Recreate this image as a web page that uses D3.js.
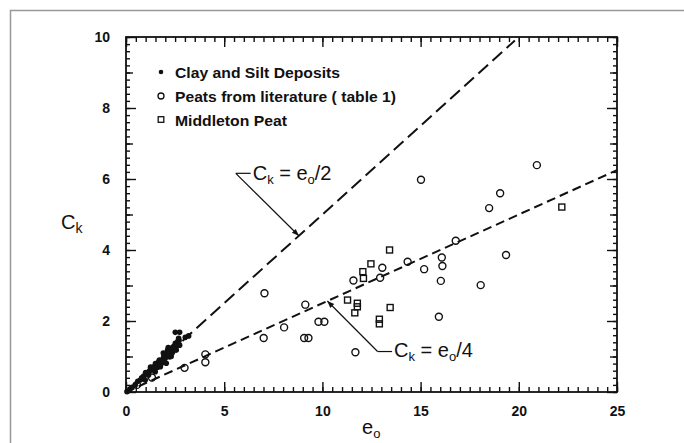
<!DOCTYPE html>
<html>
<head>
<meta charset="utf-8">
<script src="https://cdn.jsdelivr.net/npm/d3@7"></script>
<style>
  body { margin: 0; background: #fff; }
  svg text { font-family: "Liberation Sans", Arial, Helvetica, sans-serif; fill: #111; }
</style>
</head>
<body>
<div id="chart"></div>
<script>
// clay and silt deposits (filled dots)
var clayX = [0.05, 0.2, 0.3, 0.47, 0.6, 0.73, 0.8, 0.9, 0.98, 1.0, 1.1, 1.15, 1.2, 1.25, 1.32, 1.41, 1.4, 1.49,
  1.5, 1.58, 1.6, 1.66, 1.7, 1.75, 1.8, 1.83, 1.9, 1.92, 1.9, 2.0, 2.0, 2.05, 2.1, 2.12, 2.15, 2.22, 2.25,
  2.3, 2.34, 2.4, 2.42, 2.5, 2.51, 2.56, 2.6, 2.63, 2.68, 2.7, 2.73, 2.51, 2.73, 3.02, 3.19];
var clayY = [0.01, 0.08, 0.13, 0.2, 0.3, 0.34, 0.4, 0.45, 0.34, 0.55, 0.5, 0.48, 0.6, 0.7, 0.62, 0.71, 0.65, 0.57,
  0.8, 0.76, 0.7, 0.85, 0.9, 0.71, 0.8, 0.9, 0.85, 0.99, 1.1, 0.95, 1.09, 0.81, 1.05, 1.18, 1.25, 0.99, 1.23,
  1.0, 1.09, 1.15, 1.28, 1.25, 1.37, 1.18, 1.3, 1.42, 1.51, 1.45, 1.32, 1.68, 1.68, 1.54, 1.58];

// peats from literature (open circles)
var peatX = [20.92, 15.02, 19.05, 18.49, 16.79, 19.35, 14.34, 16.08, 16.11, 15.18, 16.03, 18.06, 15.93,
  13.05, 12.94, 11.58, 7.05, 9.13, 9.07, 9.29, 9.8, 10.1, 8.05, 7.01, 11.68, 4.04, 4.04, 2.98, 1.32, 0.56];
var peatY = [6.39, 5.98, 5.60, 5.18, 4.26, 3.86, 3.67, 3.79, 3.55, 3.46, 3.13, 3.01, 2.12,
  3.50, 3.22, 3.14, 2.78, 2.46, 1.52, 1.52, 1.98, 1.98, 1.82, 1.52, 1.12, 1.06, 0.84, 0.68, 0.41, 0.2];

// Middleton peat (open squares)
var middletonX = [13.42, 12.47, 12.06, 12.09, 11.28, 11.78, 11.78, 11.65, 13.45, 12.9, 12.9, 22.19];
var middletonY = [4.0, 3.61, 3.39, 3.20, 2.59, 2.50, 2.40, 2.23, 2.38, 2.05, 1.92, 5.21];

// reference lines Ck = eo / divisor
var lineDivisor = [2, 4];
var lineEndX = [19.8, 25];
var lineLabels = ["2", "4"];

var xTicks = [0, 5, 10, 15, 20, 25];
var yTicks = [0, 2, 4, 6, 8, 10];
var legendLabels = ["Clay and Silt Deposits", "Peats from literature ( table 1)", "Middleton Peat"];

var svgWidth = 684;
var svgHeight = 443;

var chartMargin = { top: 37, right: 67, bottom: 51, left: 126 };
var chartWidth = svgWidth - chartMargin.left - chartMargin.right;
var chartHeight = svgHeight - chartMargin.top - chartMargin.bottom;

var svg = d3.select("#chart")
  .append("svg")
  .attr("width", svgWidth)
  .attr("height", svgHeight);

// gray page border
svg.append("rect")
  .attr("x", 10.5).attr("y", 10.5)
  .attr("width", 720).attr("height", 480)
  .attr("fill", "none")
  .attr("stroke", "#999")
  .attr("stroke-width", 1.5);

var chartGroup = svg.append("g")
  .attr("transform", `translate(${chartMargin.left}, ${chartMargin.top})`);

var xScale = d3.scaleLinear().domain([0, 25]).range([0, chartWidth]);
var yScale = d3.scaleLinear().domain([0, 10]).range([chartHeight, 0]);

function styleAxis(g) {
  g.select(".domain").remove();
  g.selectAll("line").attr("stroke", "#111").attr("stroke-width", 1.4);
  g.selectAll("text")
    .style("font-size", "14px")
    .style("font-weight", "bold")
    .attr("fill", "#111");
}

// minor ticks
var xMinor = d3.range(0, 25.01, 0.5);
var yMinor = d3.range(0, 10.01, 0.2);
var yMid = d3.range(1, 10, 2);

chartGroup.append("g")
  .attr("transform", `translate(0, ${chartHeight})`)
  .call(d3.axisBottom(xScale).tickValues(xMinor).tickSize(-5).tickFormat(""))
  .call(styleAxis);
chartGroup.append("g")
  .call(d3.axisTop(xScale).tickValues(xMinor).tickSize(-5).tickFormat(""))
  .call(styleAxis);
chartGroup.append("g")
  .call(d3.axisLeft(yScale).tickValues(yMinor).tickSize(-4).tickFormat(""))
  .call(styleAxis);
chartGroup.append("g")
  .attr("transform", `translate(${chartWidth}, 0)`)
  .call(d3.axisRight(yScale).tickValues(yMinor).tickSize(-4).tickFormat(""))
  .call(styleAxis);
chartGroup.append("g")
  .call(d3.axisLeft(yScale).tickValues(yMid).tickSize(-7).tickFormat(""))
  .call(styleAxis);
chartGroup.append("g")
  .attr("transform", `translate(${chartWidth}, 0)`)
  .call(d3.axisRight(yScale).tickValues(yMid).tickSize(-7).tickFormat(""))
  .call(styleAxis);

// major ticks with labels
chartGroup.append("g")
  .attr("transform", `translate(0, ${chartHeight})`)
  .call(d3.axisBottom(xScale).tickValues(xTicks).tickSize(-10).tickPadding(14).tickFormat(d3.format("d")))
  .call(styleAxis);
chartGroup.append("g")
  .call(d3.axisTop(xScale).tickValues(xTicks).tickSize(-10).tickFormat(""))
  .call(styleAxis);
chartGroup.append("g")
  .call(d3.axisLeft(yScale).tickValues(yTicks).tickSize(-10).tickPadding(16).tickFormat(d3.format("d")))
  .call(styleAxis);
chartGroup.append("g")
  .attr("transform", `translate(${chartWidth}, 0)`)
  .call(d3.axisRight(yScale).tickValues(yTicks).tickSize(-10).tickFormat(""))
  .call(styleAxis);

// frame
chartGroup.append("rect")
  .attr("width", chartWidth)
  .attr("height", chartHeight)
  .attr("fill", "none")
  .attr("stroke", "#111")
  .attr("stroke-width", 1.8);

// dashed reference lines
var dashes = ["13,6", "9,5"];
lineDivisor.forEach(function(div, i) {
  chartGroup.append("line")
    .attr("x1", xScale(0)).attr("y1", yScale(0))
    .attr("x2", xScale(lineEndX[i])).attr("y2", yScale(lineEndX[i] / div))
    .attr("stroke", "#111")
    .attr("stroke-width", 2)
    .attr("stroke-dasharray", dashes[i]);
});

// clay dots
chartGroup.selectAll(".clay")
  .data(clayX)
  .enter()
  .append("circle")
  .attr("cx", (d, i) => xScale(d))
  .attr("cy", (d, i) => yScale(clayY[i]))
  .attr("r", 2.8)
  .attr("fill", "#111");

// peat circles
chartGroup.selectAll(".peat")
  .data(peatX)
  .enter()
  .append("circle")
  .attr("cx", (d, i) => xScale(d))
  .attr("cy", (d, i) => yScale(peatY[i]))
  .attr("r", 3.5)
  .attr("fill", "none")
  .attr("stroke", "#111")
  .attr("stroke-width", 1.4);

// middleton squares
chartGroup.selectAll(".middleton")
  .data(middletonX)
  .enter()
  .append("rect")
  .attr("x", (d, i) => xScale(d) - 3)
  .attr("y", (d, i) => yScale(middletonY[i]) - 3)
  .attr("width", 6)
  .attr("height", 6)
  .attr("fill", "none")
  .attr("stroke", "#111")
  .attr("stroke-width", 1.4);

// arrowhead
svg.append("defs").append("marker")
  .attr("id", "arrow")
  .attr("viewBox", "0 0 10 10")
  .attr("refX", 10).attr("refY", 5)
  .attr("markerWidth", 10).attr("markerHeight", 7)
  .attr("markerUnits", "userSpaceOnUse")
  .attr("orient", "auto")
  .append("path")
  .attr("d", "M0,1 L10,5 L0,9 z")
  .attr("fill", "#111");

// annotations: knee point, arrow target, text start
var annoKneeX = [5.59, 12.81];
var annoKneeY = [6.16, 1.14];
var annoTargetX = [8.8, 10.25];
var annoTextX = [6.45, 13.65];
var annoTextY = [5.96, 0.98];

lineDivisor.forEach(function(div, i) {
  chartGroup.append("line")
    .attr("x1", xScale(annoTextX[i]) - 2).attr("y1", yScale(annoKneeY[i]))
    .attr("x2", xScale(annoKneeX[i])).attr("y2", yScale(annoKneeY[i]))
    .attr("stroke", "#111").attr("stroke-width", 1.2);
  chartGroup.append("line")
    .attr("x1", xScale(annoKneeX[i])).attr("y1", yScale(annoKneeY[i]))
    .attr("x2", xScale(annoTargetX[i])).attr("y2", yScale(annoTargetX[i] / div))
    .attr("stroke", "#111").attr("stroke-width", 1.2)
    .attr("marker-end", "url(#arrow)");

  var t = chartGroup.append("text")
    .attr("x", xScale(annoTextX[i]))
    .attr("y", yScale(annoTextY[i]))
    .style("font-size", "20px");
  t.append("tspan").text("C");
  t.append("tspan").attr("dy", 4).style("font-size", "13px").text("k");
  t.append("tspan").attr("dy", -4).text(" = e");
  t.append("tspan").attr("dy", 4).style("font-size", "13px").text("o");
  t.append("tspan").attr("dy", -4).text("/" + lineLabels[i]);
});

// legend
var legendY = [72, 96, 119.5];
var legendWidths = [165, 221, 112];
legendLabels.forEach(function(label, i) {
  var mx = 161;
  if (i === 0) {
    svg.append("circle").attr("cx", mx).attr("cy", legendY[i]).attr("r", 2.3).attr("fill", "#111");
  } else if (i === 1) {
    svg.append("circle").attr("cx", mx).attr("cy", legendY[i]).attr("r", 3)
      .attr("fill", "none").attr("stroke", "#111").attr("stroke-width", 1.3);
  } else {
    svg.append("rect").attr("x", mx - 2.8).attr("y", legendY[i] - 2.8).attr("width", 5.6).attr("height", 5.6)
      .attr("fill", "none").attr("stroke", "#111").attr("stroke-width", 1.3);
  }
  svg.append("text")
    .attr("x", 175)
    .attr("y", legendY[i] + 6)
    .attr("textLength", legendWidths[i])
    .attr("lengthAdjust", "spacingAndGlyphs")
    .style("font-size", "15px")
    .style("font-weight", "bold")
    .text(label);
});

// axis titles
var yTitle = svg.append("text")
  .attr("x", 61)
  .attr("y", 229)
  .style("font-size", "20px");
yTitle.append("tspan").text("C");
yTitle.append("tspan").attr("dy", 4).style("font-size", "14px").text("k");

var xTitle = svg.append("text")
  .attr("x", 362)
  .attr("y", 434)
  .style("font-size", "20px");
xTitle.append("tspan").text("e");
xTitle.append("tspan").attr("dy", 4).style("font-size", "13px").text("o");
</script>
</body>
</html>
